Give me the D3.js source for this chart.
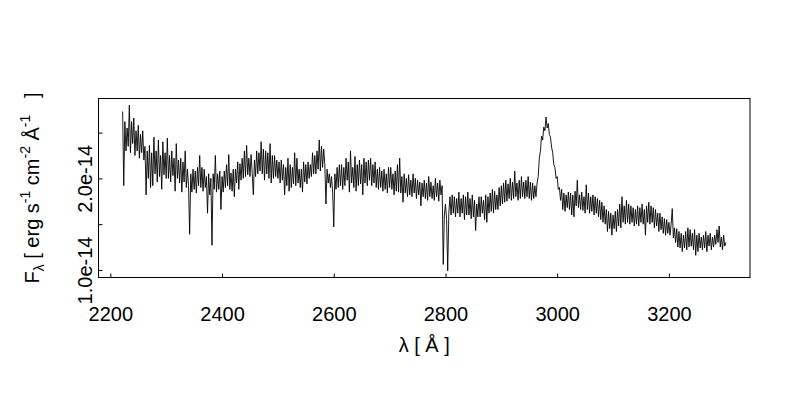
<!DOCTYPE html>
<html>
<head>
<meta charset="utf-8">
<script src="https://cdn.jsdelivr.net/npm/d3@7"></script>
<style>
  body { margin: 0; background: #fff; }
  svg text { font-family: "Liberation Sans", Arial, Helvetica, sans-serif; fill: #000; }
</style>
</head>
<body>
<svg id="chart" width="800" height="400"></svg>
<script>
// wavelength grid (Angstrom) and flux (units of 1e-14 erg/s/cm2/A)
var wave = [
  2222,2224,2226,2228,2230,2232,2234,2236,2238,2240,2242,2244,2246,2248,2250,2252,2254,2256,2258,2260,
  2262,2264,2266,2268,2270,2272,2274,2276,2278,2280,2282,2284,2286,2288,2290,2292,2294,2296,2298,2300,
  2302,2304,2306,2308,2310,2312,2314,2316,2318,2320,2322,2324,2326,2328,2330,2332,2334,2336,2338,2340,
  2342,2344,2346,2348,2350,2352,2354,2356,2358,2360,2362,2364,2366,2368,2370,2372,2374,2376,2378,2380,
  2382,2384,2386,2388,2390,2392,2394,2396,2398,2400,2402,2404,2406,2408,2410,2412,2414,2416,2418,2420,
  2422,2424,2426,2428,2430,2432,2434,2436,2438,2440,2442,2444,2446,2448,2450,2452,2454,2456,2458,2460,
  2462,2464,2466,2468,2470,2472,2474,2476,2478,2480,2482,2484,2486,2488,2490,2492,2494,2496,2498,2500,
  2502,2504,2506,2508,2510,2512,2514,2516,2518,2520,2522,2524,2526,2528,2530,2532,2534,2536,2538,2540,
  2542,2544,2546,2548,2550,2552,2554,2556,2558,2560,2562,2564,2566,2568,2570,2572,2574,2576,2578,2580,
  2582,2584,2586,2588,2590,2592,2594,2596,2598,2600,2602,2604,2606,2608,2610,2612,2614,2616,2618,2620,
  2622,2624,2626,2628,2630,2632,2634,2636,2638,2640,2642,2644,2646,2648,2650,2652,2654,2656,2658,2660,
  2662,2664,2666,2668,2670,2672,2674,2676,2678,2680,2682,2684,2686,2688,2690,2692,2694,2696,2698,2700,
  2702,2704,2706,2708,2710,2712,2714,2716,2718,2720,2722,2724,2726,2728,2730,2732,2734,2736,2738,2740,
  2742,2744,2746,2748,2750,2752,2754,2756,2758,2760,2762,2764,2766,2768,2770,2772,2774,2776,2778,2780,
  2782,2784,2786,2788,2790,2792,2794,2796,2798,2800,2802,2804,2806,2808,2810,2812,2814,2816,2818,2820,
  2822,2824,2826,2828,2830,2832,2834,2836,2838,2840,2842,2844,2846,2848,2850,2852,2854,2856,2858,2860,
  2862,2864,2866,2868,2870,2872,2874,2876,2878,2880,2882,2884,2886,2888,2890,2892,2894,2896,2898,2900,
  2902,2904,2906,2908,2910,2912,2914,2916,2918,2920,2922,2924,2926,2928,2930,2932,2934,2936,2938,2940,
  2942,2944,2946,2948,2950,2952,2954,2956,2958,2960,2962,2964,2966,2968,2970,2972,2974,2976,2978,2980,
  2982,2984,2986,2988,2990,2992,2994,2996,2998,3000,3002,3004,3006,3008,3010,3012,3014,3016,3018,3020,
  3022,3024,3026,3028,3030,3032,3034,3036,3038,3040,3042,3044,3046,3048,3050,3052,3054,3056,3058,3060,
  3062,3064,3066,3068,3070,3072,3074,3076,3078,3080,3082,3084,3086,3088,3090,3092,3094,3096,3098,3100,
  3102,3104,3106,3108,3110,3112,3114,3116,3118,3120,3122,3124,3126,3128,3130,3132,3134,3136,3138,3140,
  3142,3144,3146,3148,3150,3152,3154,3156,3158,3160,3162,3164,3166,3168,3170,3172,3174,3176,3178,3180,
  3182,3184,3186,3188,3190,3192,3194,3196,3198,3200,3202,3204,3206,3208,3210,3212,3214,3216,3218,3220,
  3222,3224,3226,3228,3230,3232,3234,3236,3238,3240,3242,3244,3246,3248,3250,3252,3254,3256,3258,3260,
  3262,3264,3266,3268,3270,3272,3274,3276,3278,3280,3282,3284,3286,3288,3290,3292,3294,3296,3298,3300,
  3302
];

var flux = [
  2.73,1.92,2.62,2.30,2.55,2.35,2.80,2.28,2.62,2.38,2.66,2.25,2.52,2.30,2.58,2.22,2.48,2.28,2.52,2.20,
  2.35,1.82,2.30,2.00,2.36,1.90,2.28,1.92,2.45,2.05,2.30,1.96,2.42,2.02,2.25,1.88,2.40,2.04,2.28,2.00,
  2.44,2.00,2.25,1.96,2.30,2.03,2.22,1.86,2.38,2.00,2.20,1.95,2.22,1.85,2.18,1.96,2.30,1.90,2.10,1.92,
  1.39,2.05,1.85,2.10,1.88,2.08,1.84,2.12,1.92,2.25,1.90,2.12,1.86,2.10,1.90,2.02,1.62,2.05,1.82,2.00,
  1.27,2.05,1.88,2.25,1.85,2.05,1.88,2.08,1.66,2.02,1.85,2.08,1.90,2.15,1.92,2.26,1.88,2.06,1.86,2.10,
  1.80,2.10,1.95,2.18,1.88,2.16,1.98,2.22,2.00,2.30,2.02,2.36,2.04,2.22,2.02,2.26,2.05,1.82,2.20,2.02,
  2.30,2.05,2.28,2.08,2.40,2.05,2.32,1.98,2.30,2.05,2.28,2.00,2.38,1.95,2.25,2.00,2.25,2.02,2.20,2.00,
  2.18,1.95,2.20,1.98,2.15,1.82,2.12,1.92,2.22,1.86,2.15,1.90,2.12,1.94,2.28,1.92,2.22,1.95,2.10,1.90,
  2.10,1.85,2.18,1.96,2.15,1.94,2.18,2.00,2.15,2.02,2.28,2.05,2.25,2.05,2.30,2.10,2.42,2.08,2.35,2.12,
  2.32,2.15,1.72,2.10,1.95,2.05,1.90,2.02,1.85,1.47,2.05,1.88,2.12,1.90,2.15,1.92,2.15,1.88,2.12,1.92,
  2.22,1.98,2.18,1.85,2.30,1.95,2.12,1.90,2.24,1.86,2.15,1.92,2.20,1.94,2.15,1.82,2.22,1.95,2.18,1.92,
  2.20,1.98,2.22,1.92,2.15,1.95,2.18,1.90,2.10,1.88,2.12,1.90,2.08,1.86,2.10,1.88,2.05,1.84,2.12,1.90,
  2.12,1.88,2.05,1.82,2.08,1.86,2.15,1.85,2.22,1.84,2.02,1.74,2.05,1.84,2.00,1.80,2.04,1.82,1.98,1.80,
  2.05,1.84,2.00,1.78,1.98,1.82,1.96,1.70,1.95,1.80,1.98,1.78,1.95,1.76,2.02,1.80,1.96,1.78,1.92,1.76,
  2.00,1.80,1.95,1.75,1.98,1.82,1.92,1.06,1.60,1.72,1.55,0.99,1.62,1.80,1.60,1.82,1.62,1.80,1.58,1.78,
  1.62,1.85,1.58,1.78,1.62,1.82,1.55,1.80,1.60,1.85,1.60,1.78,1.56,1.82,1.58,1.76,1.43,1.72,1.58,1.80,
  1.58,1.80,1.62,1.76,1.55,1.82,1.52,1.80,1.62,1.84,1.64,1.88,1.62,1.86,1.66,1.82,1.66,1.90,1.70,1.92,
  1.72,1.95,1.74,1.98,1.75,1.94,1.78,2.00,1.76,1.96,1.78,2.08,1.80,1.95,1.76,1.98,1.78,2.02,1.80,1.96,
  1.78,1.98,1.80,2.02,1.78,1.96,1.76,1.95,1.78,1.92,1.80,1.95,2.02,2.22,2.30,2.46,2.42,2.56,2.52,2.67,
  2.55,2.60,2.48,2.45,2.34,2.28,2.15,2.12,2.00,2.02,1.88,1.90,1.76,1.88,1.66,1.84,1.64,1.82,1.68,1.85,
  1.66,1.84,1.60,1.82,1.58,1.86,1.70,1.98,1.68,1.82,1.66,1.85,1.65,1.80,1.62,1.93,1.66,1.84,1.62,1.80,
  1.64,1.82,1.60,1.80,1.62,1.78,1.58,1.76,1.55,1.74,1.52,1.70,1.50,1.66,1.42,1.64,1.45,1.62,1.38,1.60,
  1.45,1.64,1.42,1.66,1.48,1.72,1.46,1.80,1.52,1.70,1.50,1.76,1.52,1.72,1.50,1.70,1.52,1.68,1.48,1.66,
  1.50,1.70,1.48,1.68,1.52,1.72,1.50,1.66,1.38,1.70,1.52,1.74,1.50,1.70,1.52,1.68,1.46,1.66,1.48,1.62,
  1.42,1.62,1.44,1.58,1.40,1.56,1.38,1.55,1.40,1.52,1.38,1.50,1.67,1.35,1.46,1.30,1.45,1.25,1.42,1.24,
  1.40,1.20,1.38,1.24,1.42,1.22,1.46,1.25,1.44,1.26,1.40,1.22,1.44,1.16,1.38,1.20,1.40,1.24,1.36,1.22,
  1.38,1.24,1.42,1.20,1.38,1.26,1.40,1.22,1.36,1.25,1.38,1.28,1.44,1.30,1.48,1.25,1.36,1.22,1.38,1.26,
  1.30
];

var xTicks = [2200, 2400, 2600, 2800, 3000, 3200];
var yTicks = [1.0, 1.5, 2.0, 2.5];
var yTickLabels = ["1.0e-14", "", "2.0e-14", ""];

var svg = d3.select("#chart");
var box = {left: 98.5, right: 750, top: 98.5, bottom: 277.5};

// R style axis range: data extent padded by 4% each side
function padded(ext) {
  var d = (ext[1] - ext[0]) * 0.04;
  return [ext[0] - d, ext[1] + d];
}

var x = d3.scaleLinear().domain(padded(d3.extent(wave))).range([box.left, box.right]);
var y = d3.scaleLinear().domain(padded(d3.extent(flux))).range([box.bottom, box.top]);

var pts = wave.map(function(w, i) { return [w, flux[i]]; });

var line = d3.line()
  .x(function(d) { return x(d[0]); })
  .y(function(d) { return y(d[1]); });

svg.append("path")
  .datum(pts)
  .attr("d", line)
  .attr("fill", "none")
  .attr("stroke", "#000")
  .attr("stroke-width", 0.9)
  .attr("stroke-linejoin", "round");

// plot frame
svg.append("rect")
  .attr("x", box.left).attr("y", box.top)
  .attr("width", box.right - box.left).attr("height", box.bottom - box.top)
  .attr("fill", "none").attr("stroke", "#000").attr("stroke-width", 1);

// x axis, ticks point inward
var xAxis = svg.append("g")
  .attr("transform", "translate(0," + box.bottom + ")")
  .call(d3.axisBottom(x).tickValues(xTicks).tickFormat(d3.format("d"))
    .tickSizeInner(-4).tickSizeOuter(0).tickPadding(29));
xAxis.select(".domain").remove();
xAxis.selectAll("text").attr("font-size", 20).attr("font-family", null);

// y axis, labels rotated like R's default
var yAxis = svg.append("g")
  .attr("transform", "translate(" + box.left + ",0)")
  .call(d3.axisLeft(y).tickValues(yTicks)
    .tickFormat(function(d, i) { return yTickLabels[i]; })
    .tickSizeInner(-4).tickSizeOuter(0));
yAxis.select(".domain").remove();
yAxis.selectAll("text")
  .attr("x", null).attr("dy", null)
  .attr("font-size", 20).attr("font-family", null)
  .attr("text-anchor", "middle")
  .attr("transform", "translate(" + (92 - box.left) + ",0) rotate(-90)");

// axis titles
var cx = (box.left + box.right) / 2;
svg.append("text")
  .attr("x", cx).attr("y", 352)
  .attr("text-anchor", "middle")
  .attr("font-size", 20)
  .text("\u03bb [ \u00c5 ]");

var yl = svg.append("text")
  .attr("transform", "translate(39," + ((box.top + box.bottom) / 2) + ") rotate(-90)")
  .attr("text-anchor", "middle")
  .attr("font-size", 20);
yl.append("tspan").text("F");
yl.append("tspan").attr("font-size", 14).attr("dy", 5).text("\u03bb");
yl.append("tspan").attr("dy", -5).text(" [ erg s");
yl.append("tspan").attr("font-size", 14).attr("dy", -9).text("-1");
yl.append("tspan").attr("dy", 9).text(" cm");
yl.append("tspan").attr("font-size", 14).attr("dy", -9).text("-2");
yl.append("tspan").attr("dy", 9).text(" \u00c5");
yl.append("tspan").attr("font-size", 14).attr("dy", -9).text("-1");
yl.append("tspan").attr("dy", 9).attr("xml:space", "preserve").text("   ]");
</script>
</body>
</html>
